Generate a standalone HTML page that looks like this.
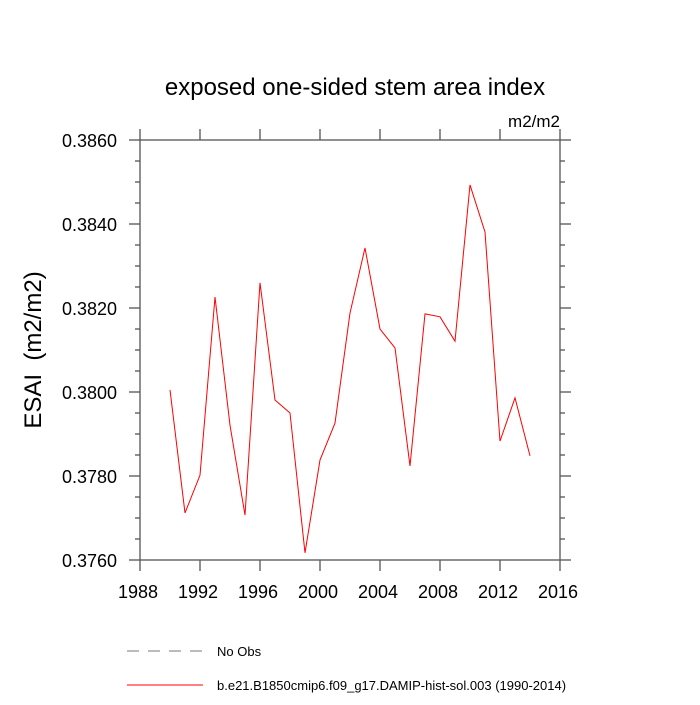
<!DOCTYPE html>
<html><head><meta charset="utf-8"><style>body{margin:0;background:#fff}svg{font-family:"Liberation Sans",sans-serif}</style></head>
<body>
<svg width="700" height="700">
<text x="355" y="95" font-size="24" text-anchor="middle">exposed one-sided stem area index</text>
<text x="560" y="127" font-size="17" text-anchor="end">m2/m2</text>
<text transform="translate(41,350) rotate(-90)" font-size="24" text-anchor="middle">ESAI &#160;(m2/m2)</text>
<g id="axes"></g>
<rect x="140" y="140" width="420" height="420" fill="none" stroke="#555" stroke-width="1.3"/>
<polyline id="series" fill="none" stroke="#f00" stroke-width="1"/>
<line x1="127" y1="651" x2="203" y2="651" stroke="#777" stroke-dasharray="12,9"/>
<text x="217" y="656" font-size="13">No Obs</text>
<line x1="127" y1="685" x2="203" y2="685" stroke="#f00"/>
<text x="217" y="690" font-size="13">b.e21.B1850cmip6.f09_g17.DAMIP-hist-sol.003 (1990-2014)</text>
</svg>
<script>
const years=[1990,1991,1992,1993,1994,1995,1996,1997,1998,1999,2000,2001,2002,2003,2004,2005,2006,2007,2008,2009,2010,2011,2012,2013,2014];
const values=[0.38005,0.37712,0.37802,0.38226,0.37921,0.37707,0.38260,0.37981,0.37950,0.37617,0.37838,0.37926,0.38188,0.38343,0.38150,0.38105,0.37824,0.38186,0.38179,0.38121,0.38493,0.38381,0.37883,0.37986,0.37848];
const xTicks=[1988,1992,1996,2000,2004,2008,2012,2016];
const yTicks=[0.376,0.378,0.380,0.382,0.384,0.386];
const yTickLabels=["0.3760","0.3780","0.3800","0.3820","0.3840","0.3860"];
const X0=140,X1=560,Y0=560,Y1=140;
const xs=v=>X0+(v-1988)/(2016-1988)*(X1-X0);
const ys=v=>Y0-(v-0.376)/(0.386-0.376)*(Y0-Y1);
const NS="http://www.w3.org/2000/svg";
const g=document.getElementById('axes');
function ln(x1,y1,x2,y2,name){const l=document.createElementNS(NS,'line');l.setAttribute('x1',x1);l.setAttribute('y1',y1);l.setAttribute('x2',x2);l.setAttribute('y2',y2);l.setAttribute('stroke','#555');l.setAttribute('stroke-width','1.3');


g.appendChild(l);}
function tx(x,y,s,anchor,name){const t=document.createElementNS(NS,'text');t.setAttribute('x',x);t.setAttribute('y',y);t.setAttribute('font-size','18');t.setAttribute('text-anchor',anchor);t.textContent=s;


g.appendChild(t);}
xTicks.forEach(v=>{const x=xs(v);ln(x,Y0,x,Y0+11,'x-tick');ln(x,Y1,x,Y1-11,'x-tick-top');tx(x-2,Y0+38,String(v),'middle','x-tick-label');});
for(let v=0.376;v<0.38601;v+=0.0005){const y=ys(v);const major=Math.abs((v*1000)%2)<0.01||Math.abs((v*1000)%2-2)<0.01;const L=major?11:5;ln(X0,y,X0-L,y,'y-tick');ln(X1,y,X1+L,y,'y-tick-right');}
yTicks.forEach((v,i)=>tx(X0-23,ys(v)+7,yTickLabels[i],'end','y-tick-label'));
document.getElementById('series').setAttribute('points',years.map((y,i)=>xs(y)+','+ys(values[i])).join(' '));
</script>
</body></html>
